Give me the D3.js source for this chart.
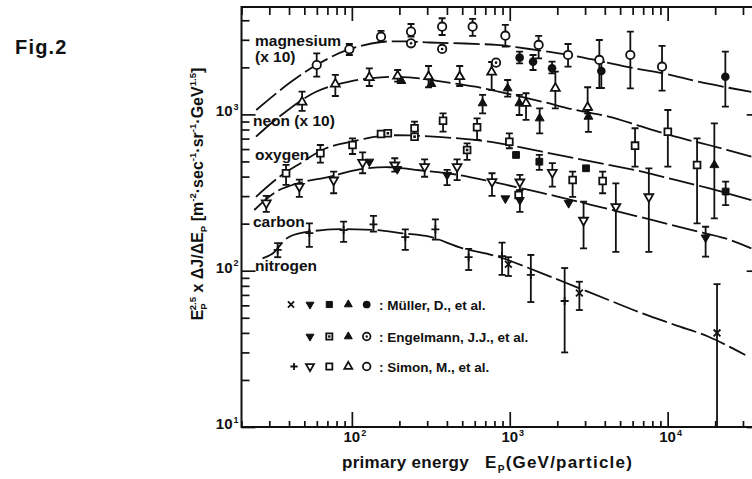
<!DOCTYPE html>
<html><head><meta charset="utf-8">
<script src="https://cdn.jsdelivr.net/npm/d3@7"></script>
<style>body{margin:0;background:#fff}svg{display:block}</style>
</head><body>
<svg id="c" width="752" height="479"></svg>
<script>
// ---------------- DATA (E [GeV/particle], flux, errLow, errHigh) ----------------
const magnesiumSimon = [[59.9,2070,1742,2460],[96.4,2609,2399,2821],[153,3141,2918,3417],[237,3382,3141,3787],[373,3640,3221,4120],[582,3640,3175,4078],[938,3188,2712,3733],[1524,2780,2285,3175],[2340,2399,2019,2821],[3693,2229,1475,2992],[5803,2399,1469,3382],[9215,2019,1418,2740]];
const magnesiumEngelmann = [[237,2850],[373,2621],[819,2142]];
const magnesiumMuller = [[1155,2306,2123,2518],[1405,2174,1923,2399],[1853,1972,1832,2174],[3802,1895,1475,2163],[23200,1742,1120,2518]];

const neonSimon = [[48.4,1200,1054,1397],[78.6,1565,1311,1787],[129,1722,1519,1972],[195,1761,1619,1923],[306,1743,1491,2040],[482,1743,1519,2040],[768,1867,1433,2164],[1268,1178,921,1365],[1945,1469,1094,1876],[3114,1110,1016,1491]];
const neonEngelmann = [[206,1636],[319,1565]];
const neonMuller = [[673,1178,1016,1331],[970,1469,1298,1660],[1150,1178,991,1331],[1547,944,757,1094],[3150,967,772,1067],[19760,474,216,877]];

const oxygenSimon = [[38.3,420,354,475],[63.2,564,492,637],[101,637,558,703],[153,749],[249.5,815,686,898],[378,911,775,1016],[621,827,686,944],[994,669,607,757],[1138,305],[2502,380,297,430],[3875,375,313,430],[6217,631,463,815],[10030,775,463,1067],[15360,474,201,703]];
const oxygenEngelmann = [[169,757],[249.5,720],[537,592,511,653]];
const oxygenMuller = [[1096,550],[1540,498,441,550],[3042,452],[23300,321,263,371]];

const carbonSimon = [[28.7,271,238,301],[46.5,346,297,382],[76.7,380,313,430],[117,492,420,571],[187,474,430,524],[289,463,399,516],[464,463,380,516],[772,371,301,420],[1159,369,328,410],[1861,425,345,487],[2934,210,139,276],[4699,257,132,362],[7602,297,132,452]];
const carbonEngelmann = [[129,498],[194,447],[401,410,353,441],[938,290]];
const carbonMuller = [[1159,283,238,328],[2361,271],[17400,163,123,191]];

const nitrogenSimon = [[33.9,136,122,150],[53.8,174,142,201],[88.7,182,153,206],[137,198,178,224],[218,164,136,184],[338,184,158,213],[549,122,101,138],[894,124,94,151],[1360,94,63,126],[2227,64,30,104]];
const nitrogenMuller = [[980,110,92.5,122],[2760,72,56,85],[20550,40,10,82]];

// fitted curves
const magnesiumFit = [[24.8,1067],[40.2,1588],[59.6,2070],[93.7,2583],[154,2904],[231,2925],[310,2884],[822,2780],[1330,2620],[2385,2400],[3700,2197],[5980,1982],[9820,1814],[15900,1612],[33900,1391]];
const neonFit = [[24.7,720],[34.7,967],[59.3,1397],[96.4,1619],[153,1727],[231,1727],[373,1619],[606,1504],[984,1351],[1602,1206],[2603,1067],[4230,967],[6886,834],[11190,720],[18180,637],[33900,536]];
const oxygenFit = [[24.7,297],[34.7,398],[46.5,482],[68.6,607],[111.6,686],[149,727],[231,733],[606,686],[984,637],[1602,577],[2603,524],[4230,474.5],[6886,430],[11190,380.5],[18180,337],[33900,283]];
const carbonFit = [[24.1,244.5],[33.1,320],[46.5,364],[72,399],[111.6,445],[173,459],[268,439],[475,410],[772,371],[1256,332],[2040,297],[3320,263],[5397,233],[8770,206],[14270,182],[23200,161],[33900,139]];
const nitrogenFit = [[27.2,120],[31.5,129],[40.2,165],[65.3,182],[106,184],[142,182],[209,173.5],[310,165],[503,139],[819,124],[1602,96.2],[2603,79],[4230,64.9],[6886,53.4],[11190,44.9],[18180,37.8],[31050,28.9]];

const curveLabels = [["magnesium",255,46],["(x 10)",255,62],["neon (x 10)",253,126],["oxygen",255,159.5],["carbon",253,226.5],["nitrogen",255,270.5]];
const xMajorTicks = [100,1000,10000], xMajorExp = ["2","3","4"];
const yMajorTicks = [10,100,1000], yMajorExp = ["1","2","3"];
const legendRows = [
  {marks:["cross","triDownFill","squareFill","triFill","circleFill"], text:": Müller, D., et al."},
  {marks:[null,"triDownFill","squareDot","triFill","circleDot"], text:": Engelmann, J.J., et al."},
  {marks:["plus","triDown","square","tri","circle"], text:": Simon, M., et al."}
];

// ---------------- DRAW ----------------
const ink = "#111";
const FONT = "'Liberation Sans', Arial, Helvetica, sans-serif";
const svg = d3.select("#c").attr("font-family", FONT);
const x = d3.scaleLog().domain([20,40000]).range([241.5,762.7]);
const y = d3.scaleLog().domain([10,4864]).range([427,7]);
const X0=x.range()[0], X1=x.range()[1], Y0=y.range()[0], Y1=y.range()[1];

svg.append("defs").append("clipPath").attr("id","plot").append("rect")
  .attr("x",X0).attr("y",Y1).attr("width",X1-X0).attr("height",Y0-Y1);

svg.append("rect").attr("x",X0).attr("y",Y1).attr("width",X1-X0).attr("height",Y0-Y1)
  .attr("fill","none").attr("stroke",ink).attr("stroke-width",2);

const isPow = v => Math.abs(Math.log10(v) - Math.round(Math.log10(v))) < 1e-9;
const xMinor = x.ticks().filter(v => !isPow(v));
const yMinor = y.ticks().filter(v => !isPow(v));

function axisTicks(axisFn, scale, tr, vals, len){
  const g = svg.append("g").attr("transform", tr)
    .call(axisFn(scale).tickValues(vals).tickSize(-len).tickSizeOuter(0).tickFormat(""));
  g.select(".domain").remove();
  g.selectAll("line").attr("stroke", ink).attr("stroke-width", 1.7);
}
axisTicks(d3.axisBottom, x, `translate(0,${Y0})`, xMinor, 6);
axisTicks(d3.axisBottom, x, `translate(0,${Y0})`, xMajorTicks, 15);
axisTicks(d3.axisTop, x, `translate(0,${Y1})`, xMinor, 8);
axisTicks(d3.axisTop, x, `translate(0,${Y1})`, xMajorTicks, 14);
axisTicks(d3.axisLeft, y, `translate(${X0},0)`, yMinor, 8);
axisTicks(d3.axisLeft, y, `translate(${X0},0)`, yMajorTicks, 14);
axisTicks(d3.axisRight, y, `translate(${X1},0)`, yMinor, 7);
axisTicks(d3.axisRight, y, `translate(${X1},0)`, yMajorTicks, 16);

// rich text helper
function rich(sel, parts, base){
  let cur = 0;
  parts.forEach(([t,k,dx]) => {
    const off = k==="sup" ? -0.42*base : k==="sub" ? 0.28*base : 0;
    const ts = sel.append("tspan").text(t).attr("dy", off-cur);
    if (k!=="n") ts.attr("font-size", base*0.6);
    if (dx) ts.attr("dx", dx);
    cur = off;
  });
}

// tick labels
xMajorTicks.forEach((v,i) => {
  const t = svg.append("text").attr("x", x(v)+3).attr("y", 442).attr("text-anchor","middle")
    .attr("font-size",15).attr("font-weight","bold").attr("fill",ink);
  rich(t, [["10","n"],[xMajorExp[i],"sup",1]], 15);
});
yMajorTicks.forEach((v,i) => {
  const t = svg.append("text").attr("x", 238.5).attr("y", y(v)+2).attr("text-anchor","end")
    .attr("font-size",15).attr("font-weight","bold").attr("fill",ink);
  rich(t, [["10","n"],[yMajorExp[i],"sup",1]], 15);
});

// fitted curves
const plot = svg.append("g").attr("clip-path","url(#plot)");
const line = d3.line().x(d=>x(d[0])).y(d=>y(d[1])).curve(d3.curveCatmullRom.alpha(0.5));
[magnesiumFit, neonFit, oxygenFit, carbonFit, nitrogenFit].forEach(f => {
  plot.append("path").datum(f).attr("d", line).attr("fill","none").attr("stroke",ink)
    .attr("stroke-width",1.8).attr("stroke-dasharray","26,5");
});

// markers
function marker(g, type, cx, cy, s){
  s = s || 1;
  const gg = g.append("g").attr("transform",`translate(${cx},${cy})`);
  const sw = 1.8;
  const tri = d3.symbol(d3.symbolTriangle, 34*s*s)();
  const sq = d3.symbol(d3.symbolSquare, 46*s*s)();
  switch(type){
    case "circle": gg.append("circle").attr("r",4.2*s).attr("fill","#fff").attr("stroke",ink).attr("stroke-width",sw); break;
    case "circleFill": gg.append("circle").attr("r",4.3*s).attr("fill",ink); break;
    case "circleDot": gg.append("circle").attr("r",4.2*s).attr("fill","#fff").attr("stroke",ink).attr("stroke-width",sw);
      gg.append("circle").attr("r",1.3*s).attr("fill",ink); break;
    case "tri": gg.append("path").attr("d",tri).attr("fill","#fff").attr("stroke",ink).attr("stroke-width",sw); break;
    case "triFill": gg.append("path").attr("d",tri).attr("fill",ink).attr("stroke",ink).attr("stroke-width",1); break;
    case "triDown": gg.append("path").attr("d",tri).attr("transform","rotate(180)").attr("fill","#fff").attr("stroke",ink).attr("stroke-width",sw); break;
    case "triDownFill": gg.append("path").attr("d",tri).attr("transform","rotate(180)").attr("fill",ink).attr("stroke",ink).attr("stroke-width",1); break;
    case "square": gg.append("path").attr("d",sq).attr("fill","#fff").attr("stroke",ink).attr("stroke-width",sw); break;
    case "squareFill": gg.append("path").attr("d",sq).attr("fill",ink).attr("stroke",ink).attr("stroke-width",1); break;
    case "squareDot": gg.append("path").attr("d",sq).attr("fill","#fff").attr("stroke",ink).attr("stroke-width",sw);
      gg.append("rect").attr("x",-1.3*s).attr("y",-1.3*s).attr("width",2.6*s).attr("height",2.6*s).attr("fill",ink); break;
    case "plus": gg.append("path").attr("d",`M${-4*s},0H${4*s}M0,${-4*s}V${4*s}`).attr("stroke",ink).attr("stroke-width",sw); break;
    case "cross": gg.append("path").attr("d",`M${-3.4*s},${-3.4*s}L${3.4*s},${3.4*s}M${-3.4*s},${3.4*s}L${3.4*s},${-3.4*s}`).attr("stroke",ink).attr("stroke-width",sw); break;
  }
}

const series = [
  [magnesiumSimon,"circle"],[magnesiumEngelmann,"circleDot"],[magnesiumMuller,"circleFill"],
  [neonSimon,"tri"],[neonEngelmann,"triFill"],[neonMuller,"triFill"],
  [oxygenSimon,"square"],[oxygenEngelmann,"squareDot"],[oxygenMuller,"squareFill"],
  [carbonSimon,"triDown"],[carbonEngelmann,"triDownFill"],[carbonMuller,"triDownFill"],
  [nitrogenSimon,"plus"],[nitrogenMuller,"cross"]
];
const errG = plot.append("g").attr("stroke",ink).attr("stroke-width",1.8);
series.forEach(([data]) => data.forEach(d => {
  if (d.length < 4) return;
  const cx = x(d[0]), ya = y(d[2]), yb = y(d[3]);
  errG.append("line").attr("x1",cx).attr("x2",cx).attr("y1",ya).attr("y2",yb);
  if (d[2] > 10) errG.append("line").attr("x1",cx-3.5).attr("x2",cx+3.5).attr("y1",ya).attr("y2",ya);
  errG.append("line").attr("x1",cx-3.5).attr("x2",cx+3.5).attr("y1",yb).attr("y2",yb);
}));
const mkG = plot.append("g");
series.forEach(([data,type]) => data.forEach(d => marker(mkG, type, x(d[0]), y(d[1]))));

// curve labels
curveLabels.forEach(([t,lx,ly]) => svg.append("text").attr("x",lx).attr("y",ly).text(t)
  .attr("font-size",15.5).attr("font-weight","bold").attr("fill",ink));

// legend
const legX = [291,310,329.3,348.3,366.7], legY = [304.5,336.5,366.5];
legendRows.forEach((r,i) => {
  r.marks.forEach((m,j) => { if (m) marker(svg, m, legX[j] + (m==="plus"?3:0), legY[i], 0.9); });
  svg.append("text").attr("x",379).attr("y",legY[i]+5).text(r.text)
    .attr("font-size",13.5).attr("font-weight","bold").attr("fill",ink);
});

// axis titles
svg.append("text").attr("x",342).attr("y",468).text("primary energy")
  .attr("font-size",17).attr("font-weight","bold").attr("letter-spacing",0.3).attr("fill",ink);
const xt = svg.append("text").attr("x",633).attr("y",468).attr("text-anchor","end")
  .attr("font-size",17).attr("font-weight","bold").attr("letter-spacing",1.2).attr("fill",ink);
rich(xt, [["E","n"],["P","sub"],["(GeV/particle)","n"]], 17);

const yt = svg.append("text").attr("transform","translate(203,194) rotate(-90)").attr("text-anchor","middle")
  .attr("font-size",16).attr("font-weight","bold").attr("fill",ink);
rich(yt, [["E","n"],["P","sub"],["2.5","sup",-7],[" x ΔJ/ΔE","n"],["P","sub"],[" [m","n"],["-2","sup"],["·sec","n"],["-1","sup"],["·sr","n"],["-1","sup"],["·GeV","n"],["1.5","sup"],["]","n"]], 16);

svg.append("text").attr("x",15).attr("y",54).text("Fig.2").attr("font-size",20)
  .attr("font-weight","bold").attr("letter-spacing",1.2).attr("fill",ink);
</script>
</body></html>
